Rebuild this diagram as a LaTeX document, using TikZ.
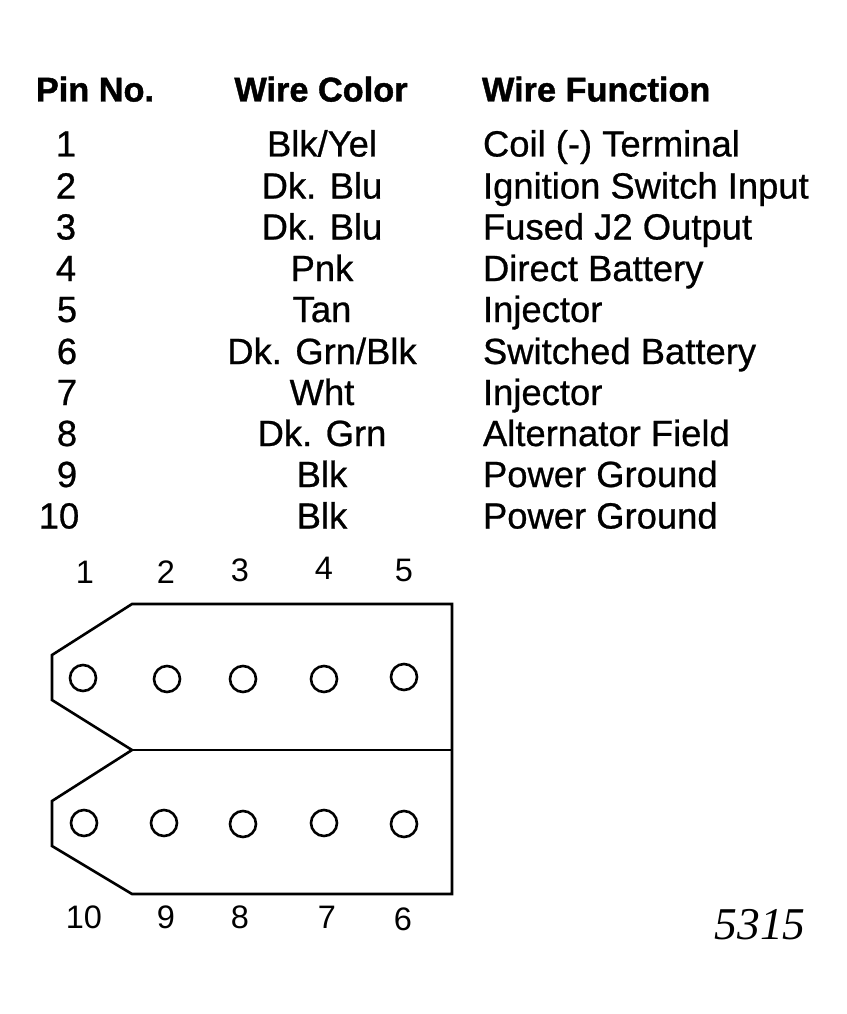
\documentclass[tikz,border=0pt]{standalone}
\usepackage{fontspec}
\setmainfont{Liberation Sans}
\newfontfamily\rowfont[FakeBold=0.7]{Liberation Sans}
\newfontfamily\headfont[FakeBold=1.2]{Liberation Sans Bold}
\newfontfamily\numfont{Liberation Serif}
\usepackage{tikz}
\usetikzlibrary{positioning}
\tikzset{
  every node/.style={inner sep=0pt,outer sep=0pt,text=black},
  headtxt/.style={font=\headfont\fontsize{34.3}{35}\selectfont,anchor=base},
  rowtxt/.style={font=\rowfont\fontsize{36.4}{37}\selectfont,anchor=base},
  pintxt/.style={font=\fontsize{32.5}{33}\selectfont,anchor=base},
  pinhole/.style={circle,draw,line width=2.6pt,minimum size=26pt},
  housing/.style={draw,line width=2.6pt,line join=miter}
}
\begin{document}
\begin{tikzpicture}[x=1pt,y=-1pt]
  \useasboundingbox (0,0) rectangle (846,1014);
  \fill[white] (0,0) rectangle (846,1014);
  % table head
  \node[headtxt] (h_pin) at (95,101.5) {Pin No.};
  \node[headtxt] (h_col) at (321,101.5) {Wire Color};
  \node[headtxt,anchor=base west] (h_fun) at (482,101.5) {Wire Function};
  % table rows
  \foreach \n/\ypos/\xpos/\wcol/\wfun in {
    1/156.5/66/Blk\slash Yel/Coil (-) Terminal,
    2/198.5/66/Dk. Blu/Ignition Switch Input,
    3/239.5/66/Dk. Blu/Fused J2 Output,
    4/281/66/Pnk/Direct Battery,
    5/322/67/Tan/Injector,
    6/364/67/Dk. Grn\slash Blk/Switched Battery,
    7/405/67/Wht/Injector,
    8/446/67/Dk. Grn/Alternator Field,
    9/487/67/Blk/Power Ground,
    10/528.5/59/Blk/Power Ground}{
    \node[rowtxt] (pin_\n) at (\xpos,\ypos) {\n};
    \node[rowtxt] (col_\n) at (322,\ypos) {\wcol};
    \node[rowtxt,anchor=base west] (fun_\n) at (483,\ypos) {\wfun};
  }
  % connector
  \coordinate (a_1) at (132,604);
  \coordinate (a_2) at (452,604);
  \coordinate (a_3) at (452,894);
  \coordinate (a_4) at (132,894);
  \coordinate (a_5) at (52,846);
  \coordinate (a_6) at (52,801);
  \coordinate (a_7) at (132,750);
  \coordinate (a_8) at (52,700);
  \coordinate (a_9) at (52,655);
  \coordinate (a_10) at (452,750);
  \draw[housing] (a_1) -- (a_2) -- (a_3) -- (a_4) -- (a_5) -- (a_6) -- (a_7)
    -- (a_8) -- (a_9) -- cycle;
  \draw[housing] (a_7) -- (a_10);
  % pin holes and numbers
  \foreach \n/\xpos/\ypos/\lab/\lx/\ly in {1/83/678/1/85/583,2/167/679/2/166/583,3/243/679/3/240/581,4/324/679/4/324/579,5/404/677/5/404/581}{
    \node[pinhole] (top_\n) at (\xpos,\ypos) {};
    \node[pintxt] (tl_\n) at (\lx,\ly) {\lab};
  }
  \foreach \n/\xpos/\ypos/\lab/\lx/\ly in {1/84/823/10/84/928,2/164/823/9/166/928,3/243/824/8/240/928,4/324/823/7/327/928,5/404/824/6/403/930}{
    \node[pinhole] (bot_\n) at (\xpos,\ypos) {};
    \node[pintxt] (bl_\n) at (\lx,\ly) {\lab};
  }
  \node[font=\numfont\itshape\fontsize{45.5}{46}\selectfont,anchor=base] (partno) at (760,939) {5315};
\end{tikzpicture}
\end{document}
